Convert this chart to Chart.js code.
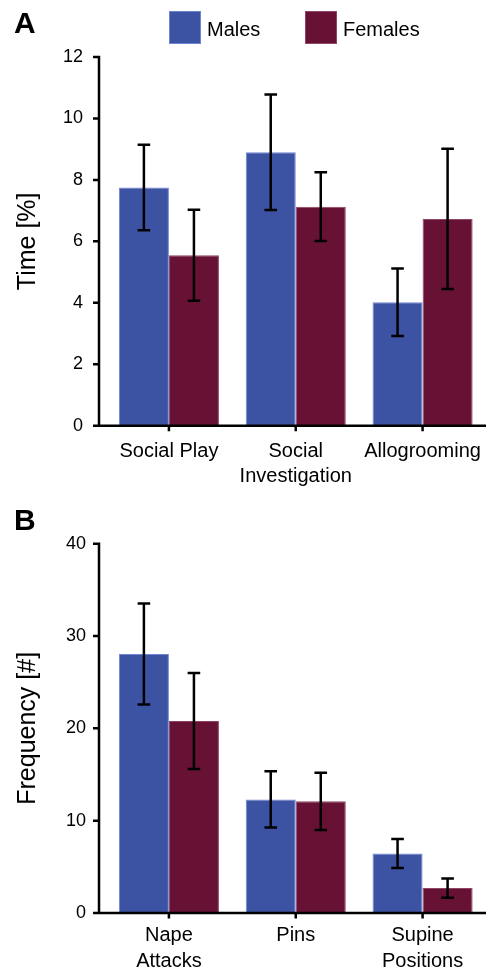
<!DOCTYPE html>
<html>
<head>
<meta charset="utf-8">
<script src="https://cdn.jsdelivr.net/npm/chart.js@4.4.1/dist/chart.umd.min.js"></script>
<style>
  body { margin: 0; background: #fff; font-family: "Liberation Sans", Arial, sans-serif; }
  #page { position: relative; width: 486px; height: 973px; overflow: hidden; }
  canvas { position: absolute; left: 0; }
  #chartA { top: 0; }
  #chartB { top: 490px; }
  .panel { position: absolute; left: 14px; font-weight: bold; font-size: 30px; line-height: 30px; }
  .legend-box { position: absolute; top: 11px; width: 32px; height: 33px; box-sizing: border-box; border: 1px solid; }
  .legend-text { position: absolute; top: 19px; font-size: 20px; line-height: 20px; }
</style>
</head>
<body>
<div id="page">
  <canvas id="chartA" width="486" height="490"></canvas>
  <canvas id="chartB" width="486" height="483"></canvas>
  <div class="panel" style="top:8px">A</div>
  <div class="panel" style="top:505px">B</div>
  <div id="legend"></div>
</div>
<script>
// panel A - time spent
const timeCategories = ["Social Play", ["Social", "Investigation"], "Allogrooming"];
const timeMales = [7.75, 8.9, 4.02];
const timeMalesErr = [1.39, 1.88, 1.1];
const timeFemales = [5.55, 7.13, 6.73];
const timeFemalesErr = [1.48, 1.12, 2.28];
const timeTicks = { max: 12, step: 2 };

// panel B - frequency
const freqCategories = [["Nape", "Attacks"], "Pins", ["Supine", "Positions"]];
const freqMales = [28.05, 12.3, 6.45];
const freqMalesErr = [5.47, 3.05, 1.57];
const freqFemales = [20.8, 12.1, 2.7];
const freqFemalesErr = [5.2, 3.1, 1.05];
const freqTicks = { max: 40, step: 10 };

const seriesNames = ["Males", "Females"];

const BLUE = "#3c53a4", BLUE_EDGE = "#7085d2";
const RED = "#671235", RED_EDGE = "#8e4466";
const FONT = "'Liberation Sans', Arial, sans-serif";

// error bars drawn on top of each bar
const errorBars = {
  id: "errorBars",
  afterDatasetsDraw(chart) {
    const { ctx, scales: { y } } = chart;
    ctx.save();
    ctx.strokeStyle = "#000";
    ctx.lineWidth = 2.5;
    chart.data.datasets.forEach((ds, i) => {
      chart.getDatasetMeta(i).data.forEach((bar, j) => {
        const hi = y.getPixelForValue(ds.data[j] + ds.errors[j]);
        const lo = y.getPixelForValue(ds.data[j] - ds.errors[j]);
        ctx.beginPath();
        ctx.moveTo(bar.x, hi); ctx.lineTo(bar.x, lo);
        ctx.moveTo(bar.x - 6.3, hi); ctx.lineTo(bar.x + 6.3, hi);
        ctx.moveTo(bar.x - 6.3, lo); ctx.lineTo(bar.x + 6.3, lo);
        ctx.stroke();
      });
    });
    ctx.restore();
  }
};

// axis lines: y axis sits a bit left of the first category slot
const axisLines = {
  id: "axisLines",
  afterDraw(chart) {
    const { ctx, chartArea, scales: { x, y } } = chart;
    const ax = chartArea.left - 6.5;
    const y0 = y.getPixelForValue(0);
    ctx.save();
    ctx.strokeStyle = "#000";
    ctx.lineWidth = 2.5;
    ctx.beginPath();
    ctx.moveTo(ax, y.getPixelForValue(y.max) - 1.2);
    ctx.lineTo(ax, y0);
    y.ticks.forEach(t => {
      const py = y.getPixelForValue(t.value);
      ctx.moveTo(ax - 6, py); ctx.lineTo(ax + 1.2, py);
    });
    ctx.moveTo(ax - 6, y0); ctx.lineTo(chartArea.right, y0);
    x.ticks.forEach((t, i) => {
      const px = x.getPixelForTick(i);
      ctx.moveTo(px, y0); ctx.lineTo(px, y0 + 5.5);
    });
    ctx.stroke();
    ctx.restore();
  }
};

function makeChart(id, labels, males, malesErr, females, femalesErr, ticks, title, opts) {
  return new Chart(document.getElementById(id), {
    type: "bar",
    data: {
      labels: labels,
      datasets: [
        { label: seriesNames[0], data: males, errors: malesErr, backgroundColor: BLUE, borderColor: BLUE_EDGE, borderWidth: 1 },
        { label: seriesNames[1], data: females, errors: femalesErr, backgroundColor: RED, borderColor: RED_EDGE, borderWidth: 1 },
      ],
    },
    options: {
      responsive: false,
      animation: false,
      devicePixelRatio: 1,
      layout: { padding: { top: opts.top, left: 0, right: 0, bottom: 0 } },
      datasets: { bar: { barPercentage: 1, categoryPercentage: 0.789 } },
      plugins: { legend: { display: false }, tooltip: { enabled: false } },
      scales: {
        x: {
          grid: { display: false, drawTicks: false },
          border: { display: false },
          ticks: {
            color: "#000", font: { family: FONT, size: 20, lineHeight: 1.27 },
            padding: opts.xPad, maxRotation: 0, autoSkip: false,
          },
          // labels may run to the canvas edge, don't let them shrink the plot
          afterFit: s => { s.height = opts.xHeight; s.paddingLeft = 0; s.paddingRight = 0; },
        },
        y: {
          min: 0, max: ticks.max,
          grid: { display: false, drawTicks: false },
          border: { display: false },
          ticks: { stepSize: ticks.step, color: "#000", font: { family: FONT, size: 18 }, padding: opts.yPad },
          title: { display: true, text: title, color: "#000", font: { family: FONT, size: 25 }, padding: { top: 13, bottom: 0 } },
          afterFit: s => { s.width = 105.5; },
        },
      },
    },
    plugins: [errorBars, axisLines],
  });
}

const chartA = makeChart("chartA", timeCategories, timeMales, timeMalesErr, timeFemales, timeFemalesErr,
  timeTicks, "Time [%]", { top: 57, xHeight: 64.3, xPad: 13, yPad: 22.5 });
makeChart("chartB", freqCategories, freqMales, freqMalesErr, freqFemales, freqFemalesErr,
  freqTicks, "Frequency [#]", { top: 53.7, xHeight: 60, xPad: 10, yPad: 19.5 });

// html legend built from the datasets of panel A
const legend = document.getElementById("legend");
const legendX = [169, 305];
chartA.data.datasets.forEach((ds, i) => {
  const box = document.createElement("div");
  box.className = "legend-box";
  box.style.left = legendX[i] + "px";
  box.style.background = ds.backgroundColor;
  box.style.borderColor = ds.borderColor;
  const txt = document.createElement("div");
  txt.className = "legend-text";
  txt.style.left = (legendX[i] + 38) + "px";
  txt.textContent = ds.label;
  legend.appendChild(box);
  legend.appendChild(txt);
});
</script>
</body>
</html>
